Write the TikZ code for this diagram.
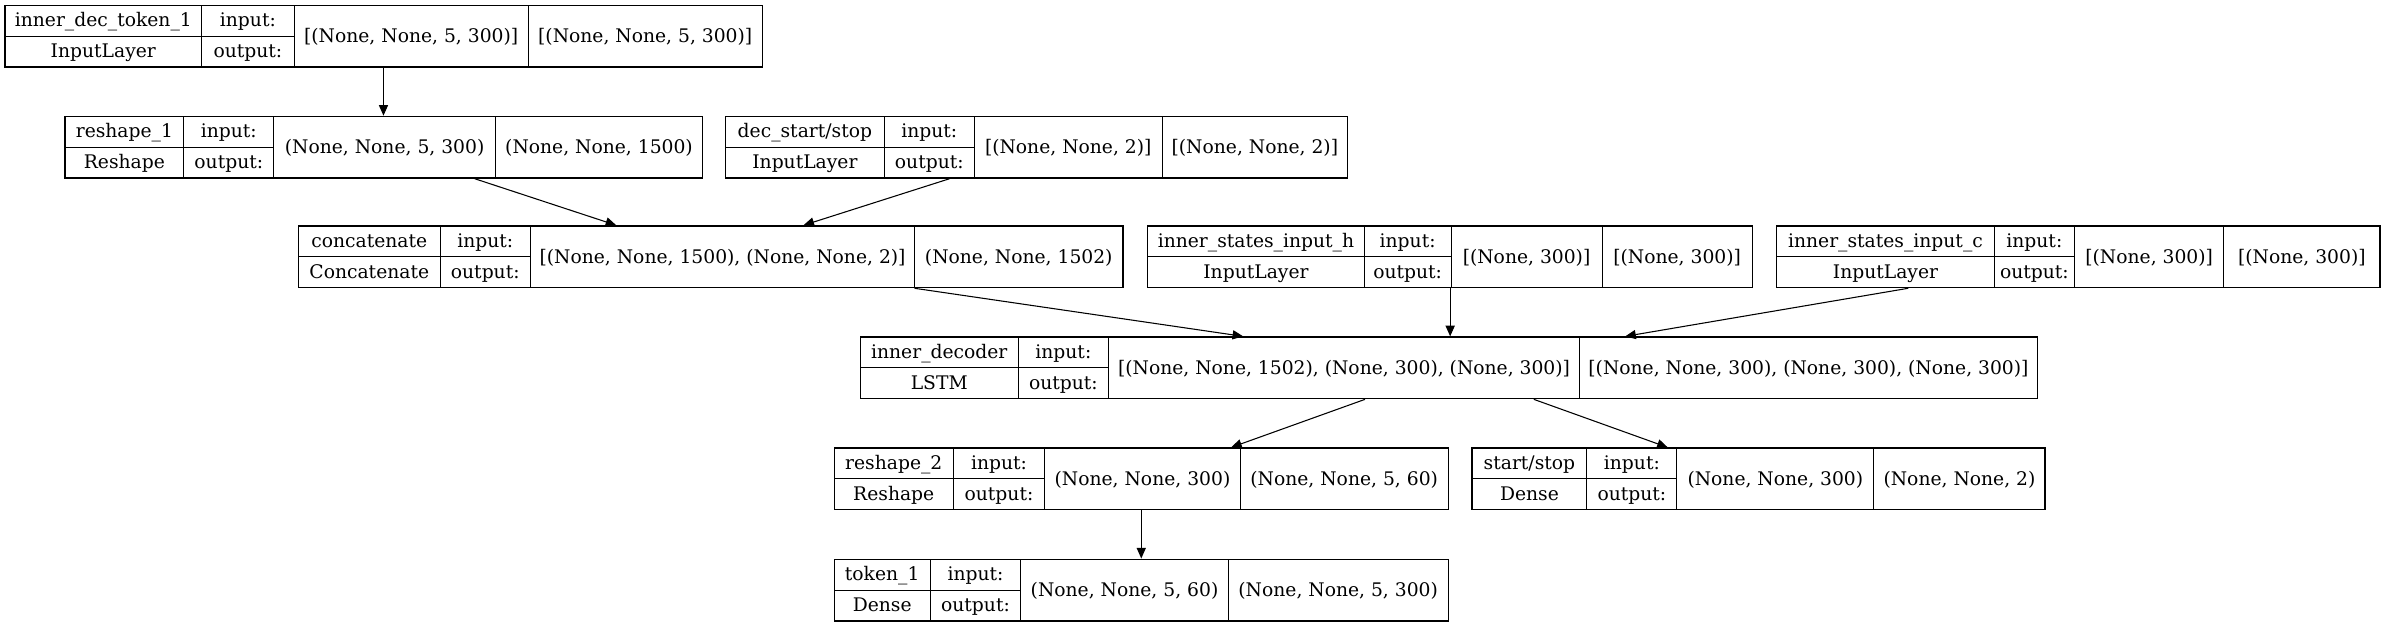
\documentclass[tikz,border=0pt]{standalone}
\usepackage{fontspec}
\setmainfont{DejaVu Serif}
\usetikzlibrary{arrows.meta, positioning, fit}

\newcommand{\setcols}[5]{\def\cA{#1}\def\cB{#2}\def\cC{#3}\def\cD{#4}\def\cE{#5}}
\newcommand{\layerbox}[6]{%
    \node[layer, fit={(\cA,#2) (\cE,#2+40.5)}] (#1) {};
    \draw[divider] (\cB,#2) -- (\cB,#2+40.5) (\cC,#2) -- (\cC,#2+40.5)
        (\cD,#2) -- (\cD,#2+40.5) (\cA,#2+20.25) -- (\cC,#2+20.25);
    \node[lbl] (#1-name) at ({(\cA+\cB)/2},#2+14.1) {#3};
    \node[lbl] (#1-type) at ({(\cA+\cB)/2},#2+34.3) {#4};
    \node[lbl] (#1-inl) at ({(\cB+\cC)/2},#2+14.1) {input:};
    \node[lbl] (#1-outl) at ({(\cB+\cC)/2},#2+34.3) {output:};
    \node[lbl] (#1-in) at ({(\cC+\cD)/2},#2+24.4) {#5};
    \node[lbl] (#1-out) at ({(\cD+\cE)/2},#2+24.4) {#6};
}

\begin{document}
\begin{tikzpicture}[
    x=1pt, y=-1pt,
    layer/.style={draw, line width=0.9pt, inner sep=0pt},
    divider/.style={line width=0.6pt},
    lbl/.style={inner sep=0pt, anchor=base, font=\fontsize{12.3}{15}\selectfont},
    edge/.style={line width=0.7pt, -{Triangle[length=7pt, width=6pt]}},
]
    \useasboundingbox (0,0) rectangle (1568,412);

    \setcols{3.4}{132.4}{193.4}{347}{501}
    \layerbox{tok}{3.5}{inner\_dec\_token\_1}{InputLayer}{[(None, None, 5, 300)]}{[(None, None, 5, 300)]}

    \setcols{42.8}{120.7}{180}{325.5}{461.8}
    \layerbox{rs1}{76.5}{reshape\_1}{Reshape}{(None, None, 5, 300)}{(None, None, 1500)}

    \setcols{476.9}{581}{640.4}{763.6}{885.7}
    \layerbox{dss}{76.5}{dec\_start/stop}{InputLayer}{[(None, None, 2)]}{[(None, None, 2)]}

    \setcols{196.2}{289.2}{348.6}{601.1}{737.9}
    \layerbox{cat}{148.5}{concatenate}{Concatenate}{[(None, None, 1500), (None, None, 2)]}{(None, None, 1502)}

    \setcols{754.2}{896.5}{953.6}{1052.8}{1151.5}
    \layerbox{sth}{148.5}{inner\_states\_input\_h}{InputLayer}{[(None, 300)]}{[(None, 300)]}

    \setcols{1167.6}{1310.5}{1363.3}{1461.4}{1564}
    \layerbox{stc}{148.5}{inner\_states\_input\_c}{InputLayer}{[(None, 300)]}{[(None, 300)]}

    \setcols{565.5}{669}{728.6}{1037.9}{1339}
    \layerbox{dec}{221.5}{inner\_decoder}{LSTM}{[(None, None, 1502), (None, 300), (None, 300)]}{[(None, None, 300), (None, 300), (None, 300)]}

    \setcols{548.3}{626.4}{686.6}{815}{951.7}
    \layerbox{rs2}{294.5}{reshape\_2}{Reshape}{(None, None, 300)}{(None, None, 5, 60)}

    \setcols{967.4}{1042.8}{1102}{1231.4}{1344}
    \layerbox{ss}{294.5}{start/stop}{Dense}{(None, None, 300)}{(None, None, 2)}

    \setcols{548.3}{611.2}{670.9}{807.1}{951.7}
    \layerbox{tk1}{367.5}{token\_1}{Dense}{(None, None, 5, 60)}{(None, None, 5, 300)}

    \draw[edge] (tok.south -| 252,0) -- (rs1.north -| 252,0);
    \draw[edge] (rs1.south -| 312,0) -- (cat.north -| 405,0);
    \draw[edge] (dss.south -| 624,0) -- (cat.north -| 528,0);
    \draw[edge] (cat.south -| 601,0) -- (dec.north -| 817,0);
    \draw[edge] (sth.south -| 953,0) -- (dec.north -| 953,0);
    \draw[edge] (stc.south -| 1254,0) -- (dec.north -| 1068,0);
    \draw[edge] (dec.south -| 897,0) -- (rs2.north -| 809,0);
    \draw[edge] (dec.south -| 1008,0) -- (ss.north -| 1096,0);
    \draw[edge] (rs2.south -| 750,0) -- (tk1.north -| 750,0);
\end{tikzpicture}
\end{document}
